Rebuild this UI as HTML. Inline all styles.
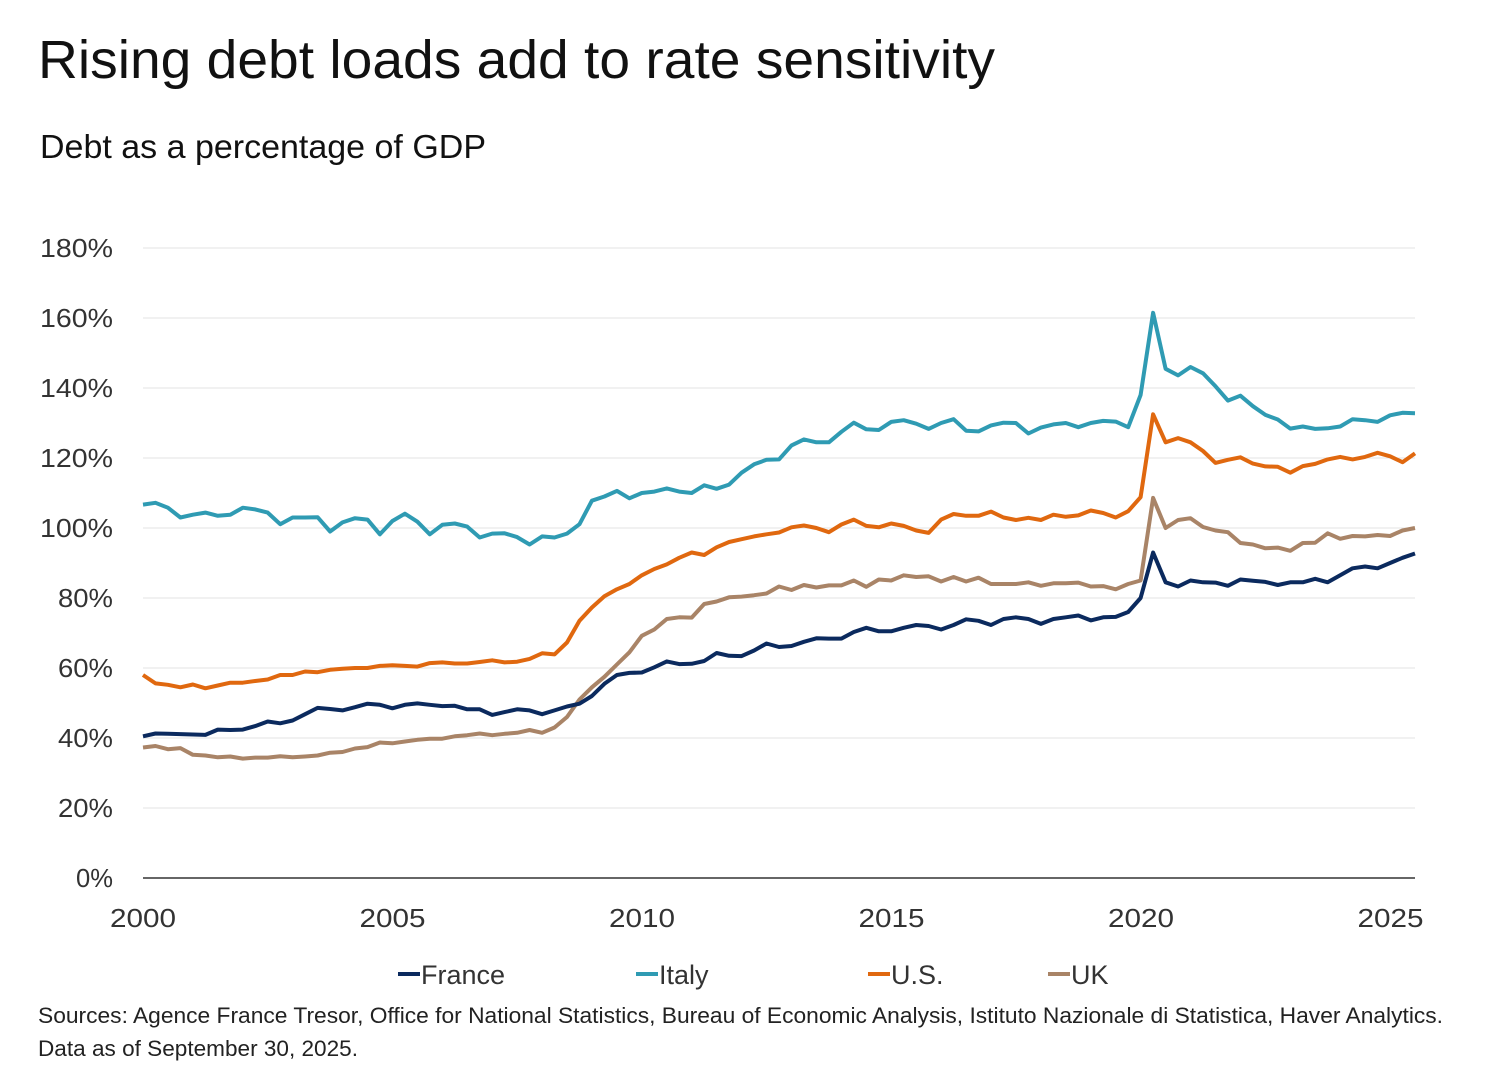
<!DOCTYPE html>
<html><head><meta charset="utf-8"><style>
html,body{margin:0;padding:0;background:#fff;}
svg{display:block;font-family:"Liberation Sans",sans-serif;}
</style></head><body>
<svg id="s" width="1504" height="1079" viewBox="0 0 1504 1079" xmlns="http://www.w3.org/2000/svg">
<text x="38" y="78" font-size="54" fill="#111" textLength="957" lengthAdjust="spacingAndGlyphs">Rising debt loads add to rate sensitivity</text>
<text x="40" y="158" font-size="33" fill="#111" textLength="446" lengthAdjust="spacingAndGlyphs">Debt as a percentage of GDP</text>
<g id="grid" stroke="#e3e3e3" stroke-width="1"></g>
<line x1="143" y1="878" x2="1415" y2="878" stroke="#333" stroke-width="1.5"/>
<g id="yl" font-size="26" fill="#333" text-anchor="end"></g>
<g id="xl" font-size="26" fill="#333" text-anchor="middle"></g>
<g id="lines" fill="none" stroke-width="4" stroke-linejoin="round"></g>
<g font-size="27" fill="#333">
<line x1="398" y1="974" x2="420" y2="974" stroke="#0b2a5e" stroke-width="4"/><text x="421" y="984">France</text>
<line x1="636" y1="974" x2="658" y2="974" stroke="#2f9bb3" stroke-width="4"/><text x="659" y="984">Italy</text>
<line x1="868" y1="974" x2="890" y2="974" stroke="#e0680f" stroke-width="4"/><text x="891" y="984">U.S.</text>
<line x1="1048" y1="974" x2="1070" y2="974" stroke="#a98467" stroke-width="4"/><text x="1071" y="984">UK</text>
</g>
<text x="38" y="1023" font-size="22" fill="#222" textLength="1405" lengthAdjust="spacingAndGlyphs">Sources: Agence France Tresor, Office for National Statistics, Bureau of Economic Analysis, Istituto Nazionale di Statistica, Haver Analytics.</text>
<text x="38" y="1056" font-size="22" fill="#222" textLength="320" lengthAdjust="spacingAndGlyphs">Data as of September 30, 2025.</text>
</svg>
<script>
var NS="http://www.w3.org/2000/svg";
function el(t,a,p,txt){var e=document.createElementNS(NS,t);for(var k in a)e.setAttribute(k,a[k]);if(txt!=null)e.textContent=txt;document.getElementById(p).appendChild(e);}
for(var v=20;v<=180;v+=20){var y=878-v*3.5;el("line",{x1:143,y1:y,x2:1415,y2:y},"grid");}
for(var v=0;v<=180;v+=20){var s=v+"%";el("text",{x:113,y:878-v*3.5+9,textLength:(s.length*18.3).toFixed(0),lengthAdjust:"spacingAndGlyphs"},"yl",s);}
for(var yr=2000;yr<=2025;yr+=5){el("text",{x:143+(yr-2000)*49.9,y:927,textLength:66,lengthAdjust:"spacingAndGlyphs"},"xl",yr);}
var fr=[40.5,41.3,41.2,41.1,41,40.9,42.4,42.3,42.4,43.4,44.7,44.2,45,46.8,48.6,48.3,47.9,48.8,49.8,49.5,48.5,49.5,49.9,49.5,49.1,49.2,48.2,48.2,46.6,47.4,48.2,47.9,46.8,47.9,49,49.8,52,55.5,58,58.6,58.7,60.2,61.9,61.1,61.2,62,64.3,63.5,63.4,65,67,66,66.3,67.5,68.5,68.4,68.4,70.3,71.5,70.5,70.5,71.5,72.3,72,71,72.3,73.9,73.5,72.3,74,74.5,74,72.6,74,74.5,75,73.6,74.5,74.6,76,75];
fr=fr.slice(0,80).concat([80,93,84.5,83.3,85,84.5,84.4,83.5,85.3,84.9,84.6,83.7,84.5,84.5,85.5,84.5,86.5,88.5,89,88.5,90,91.5,92.7]);
var it=[106.7,107.2,105.8,103,103.8,104.4,103.5,103.8,105.8,105.3,104.4,101.1,103,103,103.1,99,101.6,102.8,102.4,98.2,102,104.1,101.8,98.2,100.9,101.3,100.4,97.3,98.4,98.5,97.4,95.3,97.6,97.3,98.4,101.1,107.8,109,110.6,108.5,110,110.4,111.3,110.4,110,112.2,111.2,112.4,115.8,118.2,119.5,119.6,123.6,125.3,124.5,124.5,127.5,130.1,128.2,128,130.3,130.8,129.8,128.3,130,131.1,127.8,127.6,129.3,130.1,130,127,128.7,129.6,130,128.8,130,130.6,130.4,128.8,138,161.5,145.5,143.6,146,144.2,140.5,136.4,137.8,134.8,132.3,131,128.4,129,128.3,128.5,129,131.1,130.8,130.3,132.2,132.9,132.8];
var us=[58,55.6,55.2,54.5,55.3,54.2,55,55.8,55.8,56.3,56.7,58,58,59,58.8,59.5,59.8,60,60,60.6,60.8,60.6,60.4,61.4,61.6,61.3,61.3,61.7,62.2,61.6,61.8,62.6,64.2,63.9,67.3,73.5,77.3,80.5,82.5,84,86.5,88.3,89.6,91.5,93,92.3,94.5,96,96.8,97.6,98.2,98.7,100.2,100.7,100,98.8,101,102.4,100.6,100.2,101.3,100.6,99.3,98.6,102.4,104,103.5,103.5,104.7,103,102.3,102.9,102.3,103.8,103.2,103.6,105,104.3,103,104.8,108.8,132.5,124.5,125.7,124.5,122,118.6,119.5,120.2,118.4,117.6,117.5,115.8,117.7,118.3,119.6,120.3,119.6,120.3,121.5,120.5,118.8,121.3];
var uk=[37.3,37.7,36.8,37.1,35.2,35,34.5,34.7,34.1,34.4,34.4,34.8,34.5,34.7,35,35.8,36,37,37.4,38.7,38.5,39,39.5,39.8,39.8,40.5,40.8,41.3,40.8,41.2,41.5,42.3,41.5,43,46,51,54.5,57.5,61,64.5,69.2,71,74,74.5,74.4,78.3,79,80.2,80.4,80.8,81.3,83.3,82.3,83.7,83,83.6,83.6,85,83.2,85.3,85,86.5,86,86.2,84.7,86,84.7,85.8,84,84,84,84.5,83.5,84.2,84.2,84.4,83.3,83.4,82.5,84,85,108.6,100,102.3,102.8,100.3,99.3,98.8,95.7,95.3,94.2,94.4,93.5,95.7,95.8,98.5,96.9,97.7,97.6,98,97.7,99.3,100];
[["#a98467",uk],["#0b2a5e",fr],["#e0680f",us],["#2f9bb3",it]].forEach(function(p){
var a=p[1],pts=[];var step=(1415-143)/(a.length-1);
for(var i=0;i<a.length;i++)pts.push((143+i*step).toFixed(1)+","+(878-a[i]*3.5).toFixed(1));
el("polyline",{points:pts.join(" "),stroke:p[0]},"lines");});
</script>
</body></html>
